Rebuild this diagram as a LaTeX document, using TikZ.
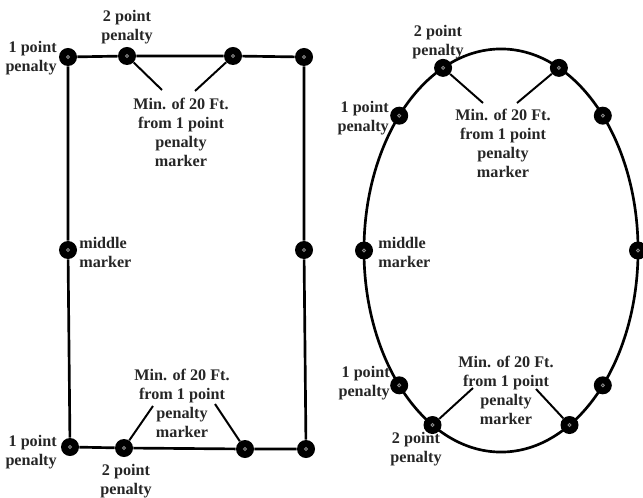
\documentclass[tikz,border=0pt]{standalone}
\usepackage{fontspec}
\setmainfont{Liberation Serif}
\usetikzlibrary{positioning}

\tikzset{
  marker/.style={circle, fill=black, minimum size=0.45cm, inner sep=0pt,
    path picture={\draw[black!45, line width=0.6pt] (path picture bounding box.center) circle (1.1pt);}},
  field/.style={line width=1.9pt},
  leader/.style={line width=1.4pt},
  tag/.style={font=\bfseries\fontsize{11.5}{13.5}\selectfont, text=black!85, inner sep=0pt}
}

\begin{document}
\begin{tikzpicture}[x=0.025cm,y=-0.025cm]
\useasboundingbox (0,0) rectangle (643,498);

% rectangular field
\node[marker] (tl) at (68,57) {};
\node[marker] (t2) at (127,56) {};
\node[marker] (t3) at (233,56) {};
\node[marker] (tr) at (304,57) {};
\node[marker] (lm) at (68,250) {};
\node[marker] (rm) at (304,250) {};
\node[marker] (bl) at (70,447) {};
\node[marker] (b2) at (124,448) {};
\node[marker] (b3) at (245,449) {};
\node[marker] (br) at (306,449) {};
\draw[field] (tl) -- (t2) -- (t3) -- (tr) -- (rm) -- (br) -- (b3) -- (b2) -- (bl) -- (lm) -- (tl);

\node[tag, align=right, anchor=east] (tlpen) at (57,58) {1 point\\penalty};
\node[tag, align=center] (t2pen) at (127,27) {2 point\\penalty};
\node[tag, align=left, anchor=west] (lmtxt) at (79,252) {middle\\marker};
\node[tag, align=right, anchor=east] (blpen) at (57,452) {1 point\\penalty};
\node[tag, align=center] (b2pen) at (126,481) {2 point\\penalty};
\node[tag, align=center] (tmin) at (181,132) {Min. of 20 Ft.\\from 1 point\\penalty\\marker};
\node[tag, align=center] (bmin) at (182,403) {Min. of 20 Ft.\\from 1 point\\penalty\\marker};

\coordinate (ta) at (162,90);
\coordinate (tb) at (195,91);
\coordinate (ba) at (153,406);
\coordinate (bb) at (215,404);
\draw[leader] (t2) -- (ta);
\draw[leader] (t3) -- (tb);
\draw[leader] (b2) -- (ba);
\draw[leader] (b3) -- (bb);

% oval field
\draw[field] (501,250.5) ellipse [x radius=3.425cm, y radius=5.0375cm];
\foreach \a/\n in {0/er, 42/etr1, 65/etr2, 115/etl2, 138/etl1, 180/el, 222/ebl1, 240/ebl2, 300/ebr2, 318/ebr1}
  \node[marker] (\n) at ({501+137*cos(\a)},{250.5-201.5*sin(\a)}) {};

\node[tag, align=center] (etl2pen) at (438,42) {2 point\\penalty};
\node[tag, align=right, anchor=east] (etl1pen) at (389,118) {1 point\\penalty};
\node[tag, align=left, anchor=west] (eltxt) at (378,252) {middle\\marker};
\node[tag, align=right, anchor=east] (ebl1pen) at (390,383) {1 point\\penalty};
\node[tag, align=center] (ebl2pen) at (416,449) {2 point\\penalty};
\node[tag, align=center] (etmin) at (503,143) {Min. of 20 Ft.\\from 1 point\\penalty\\marker};
\node[tag, align=center] (ebmin) at (506,390) {Min. of 20 Ft.\\from 1 point\\penalty\\marker};

\coordinate (eta) at (483,103);
\coordinate (etb) at (517,103);
\coordinate (eba) at (473,388);
\coordinate (ebb) at (536,389);
\draw[leader] (etl2) -- (eta);
\draw[leader] (etr2) -- (etb);
\draw[leader] (ebl2) -- (eba);
\draw[leader] (ebr2) -- (ebb);
\end{tikzpicture}
\end{document}
